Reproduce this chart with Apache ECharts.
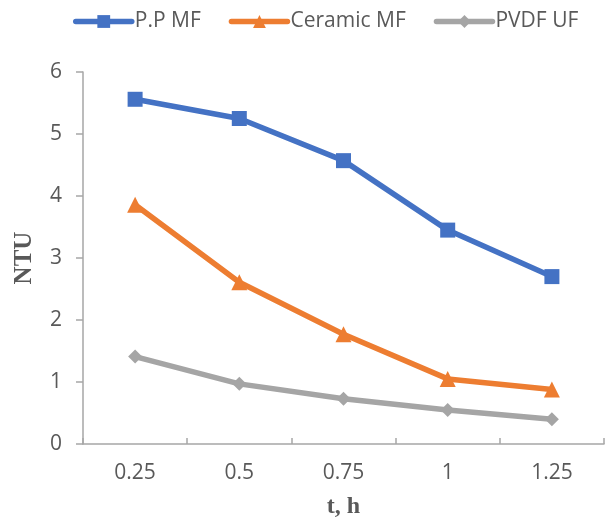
<!DOCTYPE html>
<html>
<head>
<meta charset="utf-8">
<script src="https://cdn.jsdelivr.net/npm/echarts@6/dist/echarts.min.js"></script>
<style>
  html, body { margin: 0; padding: 0; background: #fff; }
  #chart { width: 608px; height: 524px; }
</style>
</head>
<body>
<div id="chart"></div>
<script>
// Filtration time (h) and turbidity of the permeate (NTU) for three membranes
const timeLabels = ['0.25', '0.5', '0.75', '1', '1.25'];
const ppMF = [5.56, 5.25, 4.57, 3.45, 2.70];
const ceramicMF = [3.86, 2.61, 1.77, 1.05, 0.88];
const pvdfUF = [1.41, 0.97, 0.73, 0.55, 0.40];

const textColor = '#595959';
const axisColor = '#a6a6a6';
const uiFont = '"Open Sans", "Noto Sans", sans-serif';
const titleFont = '"Liberation Serif", "DejaVu Serif", serif';

function lineSeries(name, data, color, symbol, size) {
  return {
    name: name,
    type: 'line',
    data: data,
    symbol: symbol,
    symbolSize: size,
    showAllSymbol: true,
    lineStyle: { color: color, width: 5.5, cap: 'round', join: 'round' },
    itemStyle: { color: color },
    emphasis: { disabled: true },
    animation: false
  };
}

const chart = echarts.init(document.getElementById('chart'), null, { renderer: 'canvas' });
chart.setOption({
  backgroundColor: '#ffffff',
  legend: {
    top: 6,
    left: 68,
    itemWidth: 56,
    itemHeight: 16,
    itemGap: 28,
    lineStyle: { width: 5.5, cap: 'round' },
    textStyle: { color: textColor, fontSize: 21, fontFamily: uiFont, padding: [0, 0, 0, -2] },
    data: ['P.P MF', 'Ceramic MF', 'PVDF UF']
  },
  grid: { left: 83, right: 4, top: 72, bottom: 75, containLabel: false },
  xAxis: {
    type: 'category',
    data: timeLabels,
    boundaryGap: true,
    name: 't, h',
    nameLocation: 'middle',
    nameGap: 51,
    nameTextStyle: { color: textColor, fontSize: 24, fontWeight: 'bold', fontFamily: titleFont },
    axisLine: { lineStyle: { color: axisColor, width: 1.5 } },
    axisTick: { show: true, inside: true, length: 6, alignWithLabel: false, lineStyle: { color: axisColor, width: 1.5 } },
    axisLabel: { color: textColor, fontSize: 21, fontFamily: uiFont, margin: 19 },
    splitLine: { show: false }
  },
  yAxis: {
    type: 'value',
    min: 0,
    max: 6,
    interval: 1,
    name: 'NTU',
    nameLocation: 'middle',
    nameGap: 46,
    nameRotate: 90,
    nameTextStyle: { color: textColor, fontSize: 25, fontWeight: 'bold', fontFamily: titleFont },
    axisLine: { show: true, lineStyle: { color: axisColor, width: 1.5 } },
    axisTick: { show: true, length: 7, lineStyle: { color: axisColor, width: 1.5 } },
    axisLabel: { color: textColor, fontSize: 21, fontFamily: uiFont, margin: 21 },
    splitLine: { show: false }
  },
  series: [
    lineSeries('P.P MF', ppMF, '#4472C4', 'rect', 15),
    lineSeries('Ceramic MF', ceramicMF, '#ED7D31', 'triangle', 16),
    lineSeries('PVDF UF', pvdfUF, '#A5A5A5', 'diamond', 14)
  ]
});
</script>
</body>
</html>
